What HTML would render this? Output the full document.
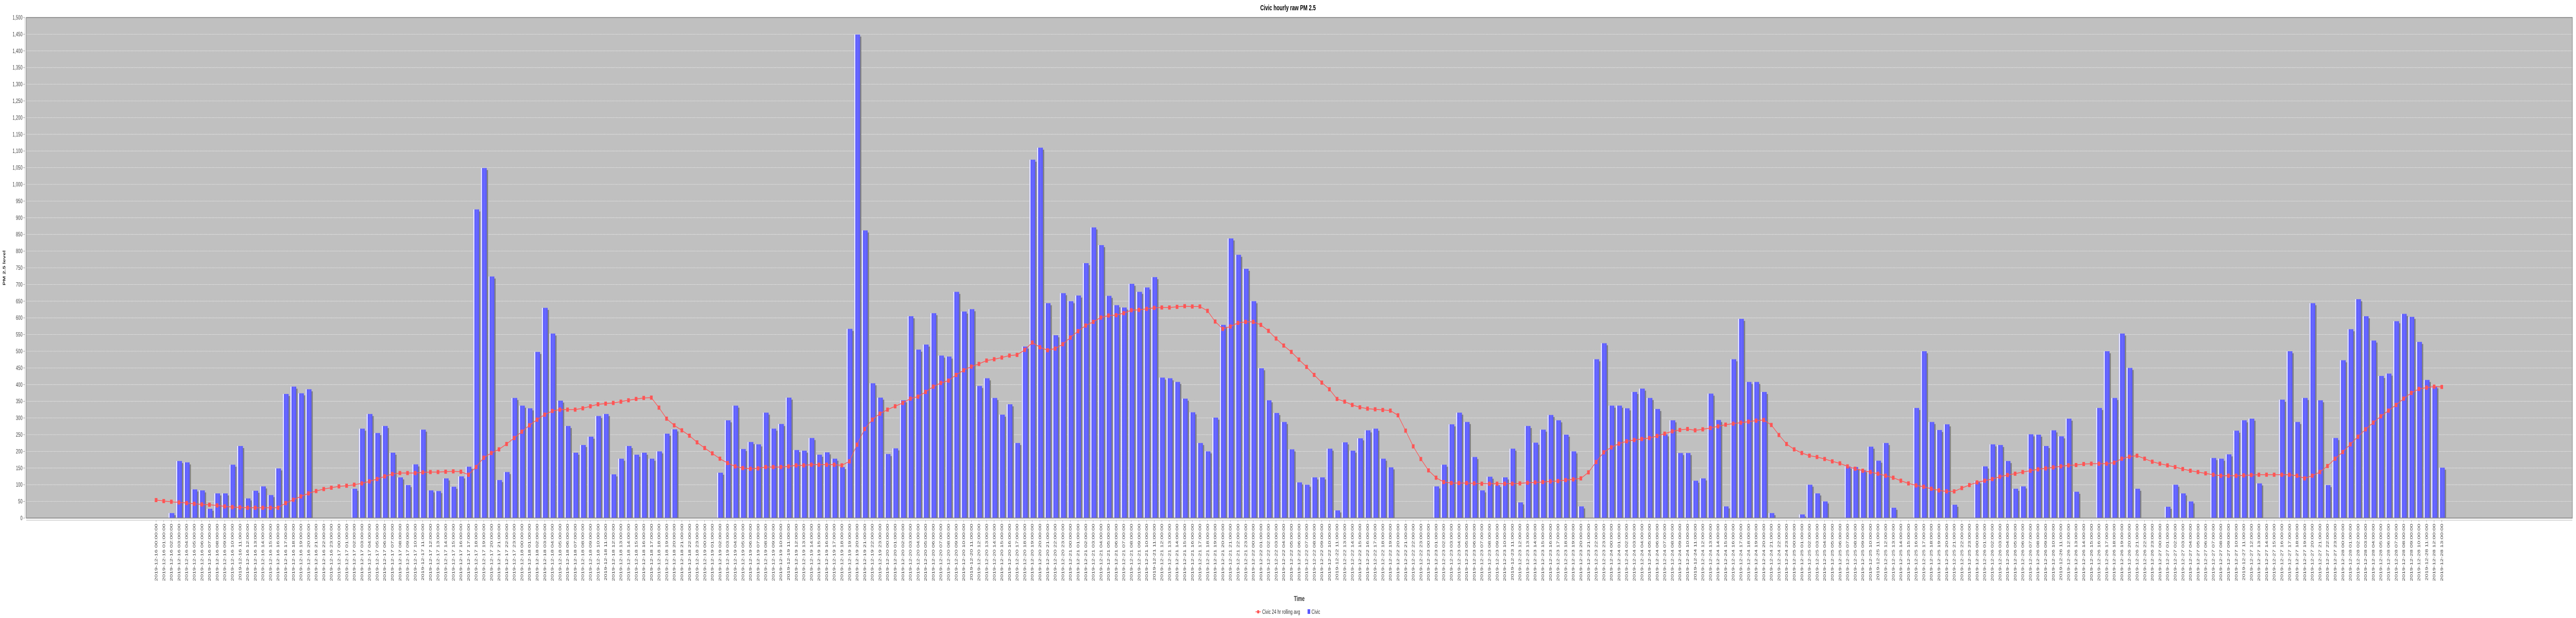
<!DOCTYPE html>
<html><head><meta charset="utf-8"><title>Civic hourly raw PM 2.5</title>
<style>
html,body{margin:0;padding:0;background:#fff;overflow:hidden;width:100%;height:100%;}
svg{display:block;width:100vw;height:100vh;font-family:"Liberation Sans","DejaVu Sans",sans-serif;}
</style></head>
<body>
<svg id="chart" viewBox="0 0 7772 1200" preserveAspectRatio="none" xmlns="http://www.w3.org/2000/svg">
<defs>
<linearGradient id="barGrad" x1="0" y1="0" x2="1" y2="0">
<stop offset="0" stop-color="#8a8aff"/>
<stop offset="0.08" stop-color="#ffffff"/>
<stop offset="0.16" stop-color="#ffffff"/>
<stop offset="0.24" stop-color="#5a5aff"/>
<stop offset="0.6" stop-color="#6a6aff"/>
<stop offset="1" stop-color="#5858ff"/>
</linearGradient>
</defs>
<text x="3886" y="20" text-anchor="middle" font-size="15" font-weight="bold" fill="#000">Civic hourly raw PM 2.5</text>
<rect x="79" y="34" width="7682" height="972" fill="#c0c0c0"/>
<g id="grid"></g>
<g id="yaxis"></g>
<g id="shadows"></g>
<g id="bars"></g>
<g id="line"></g>
<g id="xaxis"></g>
<rect x="79" y="34" width="7682" height="972" fill="none" stroke="#808080" stroke-width="1.5"/>
<text transform="translate(16,520) rotate(-90)" text-anchor="middle" font-size="12" font-weight="bold" fill="#333">PM 2.5 level</text>
<text x="3920" y="1167" text-anchor="middle" font-size="14" font-weight="bold" fill="#333">Time</text>
<g>
<g>
<line x1="3788" y1="1188" x2="3804" y2="1188" stroke="#ff5555" stroke-width="1.5"/>
<rect x="3793" y="1185" width="6" height="6" fill="#ff5555"/>
<text x="3808" y="1192" font-size="12" fill="#333">Civic 24 hr rolling avg</text>
</g>
<g>
<rect x="3945" y="1183" width="8" height="9" fill="#5a5aff"/>
<text x="3957" y="1192" font-size="12" fill="#333">Civic</text>
</g>
</g>
</svg>
<script>
const values = [null,null,15,171,167,86,83,28,74,74,160,216,59,82,95,69,149,372,394,374,386,null,null,null,null,null,88,268,312,255,276,196,122,99,161,265,83,81,119,94,125,154,925,1049,724,114,138,360,337,329,498,
630,553,352,276,196,219,244,306,312,131,178,216,190,196,178,200,253,266,null,null,null,null,null,136,293,337,207,228,221,316,268,282,361,204,202,240,190,197,178,153,567,1449,862,404,361,192,209,353,605,
505,520,614,487,484,678,619,626,396,419,360,310,341,225,514,1074,1110,644,548,674,650,667,764,871,818,666,638,631,702,678,691,722,421,419,408,358,317,225,200,301,579,838,789,747,650,449,353,315,288,206,
107,100,122,122,208,23,227,202,239,263,268,178,152,null,null,null,null,null,95,160,281,316,288,183,83,124,99,122,208,47,276,226,265,309,293,250,200,35,null,476,524,337,337,329,378,388,360,327,251,293,
195,195,112,119,373,294,35,476,597,408,408,378,15,null,null,null,11,100,74,50,null,null,155,153,144,214,172,225,31,null,null,330,500,288,264,281,40,null,null,110,155,221,219,171,88,95,251,250,216,263,
245,298,79,null,null,330,500,360,553,450,88,null,null,null,34,100,74,50,null,null,180,178,191,262,293,298,104,null,null,355,500,288,360,644,353,99,240,473,566,656,605,532,426,433,590,612,603,528,414,395,
151];
const rolling = [54,51,49,47,45,43,41,40,38,35,33,32,31,31,31,31,31,45,55,65,74,81,87,91,95,97,100,104,110,117,125,132,135,135,135,137,138,138,139,140,139,130,153,181,195,206,222,240,259,278,295,
310,321,325,325,325,329,335,341,343,345,349,353,357,360,361,331,298,278,263,247,227,210,194,178,165,155,150,148,149,153,153,153,155,158,158,160,160,160,160,158,170,220,267,295,313,325,335,345,358,
364,378,394,405,412,429,443,454,462,472,476,481,487,489,504,526,512,503,508,521,541,560,577,588,601,607,608,614,623,624,627,630,631,631,633,635,634,634,621,589,567,574,585,588,588,579,561,538,517,498,
475,453,429,406,386,357,349,339,332,328,326,324,322,308,262,215,177,143,121,108,105,105,105,104,103,103,103,103,103,104,106,107,108,110,111,114,116,119,137,168,197,212,223,230,234,237,240,246,253,260,
264,267,263,266,270,275,280,283,286,289,292,294,279,249,222,206,195,187,183,177,170,164,155,148,142,138,133,127,121,112,104,98,94,88,83,80,80,90,99,107,112,117,124,129,133,138,142,146,149,152,
155,158,159,162,163,163,163,166,178,184,187,178,169,163,158,153,147,142,138,134,130,127,127,127,128,129,130,130,130,130,130,127,119,127,138,156,178,198,221,244,266,286,305,322,339,358,375,387,391,394,
393];
const yTicks = [0,50,100,150,200,250,300,350,400,450,500,550,600,650,700,750,800,850,900,950,1000,1050,1100,1150,1200,1250,1300,1350,1400,1450,1500];
const skippedLabel = "2019-12-22 12:00:00";

const categories = [];
(function(){
  const start = Date.UTC(2019,11,16,0,0,0);
  const p = n => String(n).padStart(2,'0');
  for (let h = 0; categories.length < values.length; h++) {
    const d = new Date(start + h*3600000);
    const s = d.getUTCFullYear()+'-'+p(d.getUTCMonth()+1)+'-'+p(d.getUTCDate())+' '+p(d.getUTCHours())+':00:00';
    if (s === skippedLabel) continue;
    categories.push(s);
  }
})();

const NS = 'http://www.w3.org/2000/svg';
const PX0 = 79, PX1 = 7761, PY0 = 34, PY1 = 1006;
const FIRST = 471, LAST = 7367;
const yMax = 1500;
function xPos(i){ return FIRST + i*(LAST-FIRST)/(categories.length-1); }
function yPos(v){ return PY1 - v/yMax*(PY1-PY0); }
function mk(tag, attrs, parent){
  const e = document.createElementNS(NS, tag);
  for (const k in attrs) e.setAttribute(k, attrs[k]);
  parent.appendChild(e);
  return e;
}
const grid = document.getElementById('grid');
const yaxis = document.getElementById('yaxis');
mk('line',{x1:75,y1:PY0,x2:75,y2:PY1,stroke:'#b0b0b0','stroke-width':1},yaxis);
yTicks.forEach(v=>{
  const y = yPos(v);
  if (v>0 && v<yMax){
    const g = mk('line',{x1:PX0,y1:y,x2:PX1,y2:y,stroke:'#ffffff','stroke-width':0.8,'stroke-dasharray':'2,2'},grid);
    
    
  }
  mk('line',{x1:70,y1:y,x2:75,y2:y,stroke:'#999','stroke-width':1},yaxis);
  const t = mk('text',{x:68,y:y+4,'text-anchor':'end','font-size':12,fill:'#444'},yaxis);
  t.textContent = v.toLocaleString('en-US');
  
  
});
const shadows = document.getElementById('shadows');
const bars = document.getElementById('bars');
const BW = 18;
values.forEach((v,i)=>{
  if (v===null) return;
  const cx = xPos(i), y = yPos(v), h = PY1 - y;
  if (h > 4) mk('rect',{x:cx-BW/2+4,y:y+4,width:BW,height:h-4,fill:'#808080'},shadows);
  const r = mk('rect',{x:cx-BW/2,y:y,width:BW,height:h,fill:'url(#barGrad)'},bars);
  
  
});
const line = document.getElementById('line');
let d = '';
rolling.forEach((v,i)=>{ d += (i?'L':'M') + xPos(i).toFixed(1) + ',' + yPos(v).toFixed(1); });
const pl = mk('path',{d:d,fill:'none',stroke:'#ff5555','stroke-width':1.5},line);


rolling.forEach((v,i)=>{
  const m = mk('rect',{x:xPos(i)-4,y:yPos(v)-4,width:8,height:8,fill:'#ff5555'},line);
  
  
});
const xaxis = document.getElementById('xaxis');
mk('line',{x1:PX0,y1:1010,x2:PX1,y2:1010,stroke:'#b0b0b0','stroke-width':1},xaxis);
categories.forEach((c,i)=>{
  const x = xPos(i);
  mk('line',{x1:x,y1:1010,x2:x,y2:1014,stroke:'#999','stroke-width':1},xaxis);
  const t = mk('text',{transform:'translate('+(x+4).toFixed(1)+',1017) rotate(-90)','text-anchor':'end','font-size':12,fill:'#444'},xaxis);
  t.textContent = c;
  
  
});
</script>
</body></html>
